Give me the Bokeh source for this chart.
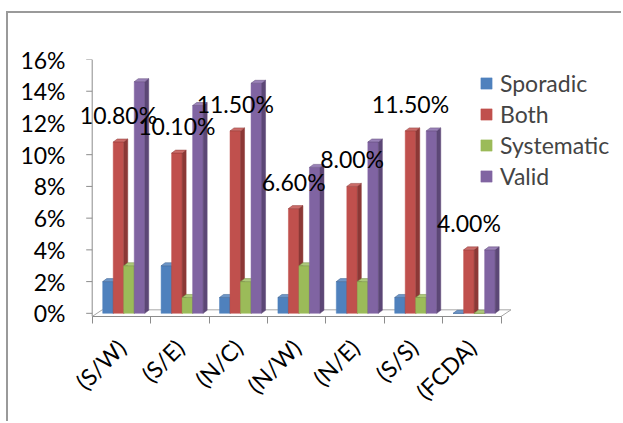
import math
from bokeh.plotting import figure
from bokeh.models import (Range1d, FixedTicker, PrintfTickFormatter, Legend, LegendItem,
                          ColumnDataSource, LabelSet)
from bokeh.core.properties import value
from bokeh.embed import file_html
from bokeh.resources import INLINE

# ---- data ----
categories = ["(S/W)", "(S/E)", "(N/C)", "(N/W)", "(N/E)", "(S/S)", "(FCDA)"]
sporadic = [2, 3, 1, 1, 2, 1, 0]
both = [10.8, 10.1, 11.5, 6.6, 8.0, 11.5, 4.0]
systematic = [3, 1, 2, 3, 2, 1, 0]
valid = [14.6, 13.1, 14.5, 9.2, 10.8, 11.5, 4.0]
series_names = ["Sporadic", "Both", "Systematic", "Valid"]
y_ticks = [0, 2, 4, 6, 8, 10, 12, 14, 16]

FONT = "Lato"
FS = "23px"
AXIS_GRAY = "#8c8c8c"
front_colors = ["#4F81BD", "#C0504D", "#9BBB59", "#8064A2"]
side_colors = ["#385D8A", "#8C3836", "#71893F", "#5C4776"]
top_colors = ["#6D96C8", "#CB6C69", "#AEC97B", "#9A82B8"]

xs_pos = list(range(len(categories)))
CAT_PX = 58.4     # pixels per category
W = 0.18          # bar width (category units)
START = -0.32     # first bar offset from category centre
DX = 4 / CAT_PX   # 3D depth (x)
DY = 3 / 15.86    # 3D depth (y)
WALL = -0.5       # position of the value-axis wall

p = figure(width=615, height=410,
           x_range=Range1d(WALL - 12.7 / CAT_PX, WALL + 518.3 / CAT_PX),
           y_range=Range1d(-0.2, 16),
           output_backend="svg", toolbar_location=None,
           min_border_left=71, min_border_right=13, min_border_top=46, min_border_bottom=107,
           margin=(11, 0, 0, 6))
p.styles = {"border-top": "2px solid #9a9a9a", "border-left": "2px solid #9a9a9a"}
p.outline_line_color = None
p.xgrid.visible = False
p.ygrid.visible = False

# floor
FX = 10 / CAT_PX
FY = 0.42
p.patch([WALL, 6.5, 6.5 + FX, WALL + FX], [-0.2, -0.2, -0.2 + FY, -0.2 + FY],
        fill_color="white", line_color="#a6a6a6", line_width=1)

# value-axis wall line and its tick marks (at the y tick values)
p.segment(x0=[WALL], y0=[-0.2], x1=[WALL], y1=[16], line_color=AXIS_GRAY, line_width=1)
p.segment(x0=[WALL - 6 / CAT_PX] * len(y_ticks), y0=y_ticks,
          x1=[WALL] * len(y_ticks), y1=y_ticks, line_color=AXIS_GRAY, line_width=1)

series_vals = [sporadic, both, systematic, valid]
items = []
for k, (name, vals) in enumerate(zip(series_names, series_vals)):
    left = [x + START + k * W for x in xs_pos]
    right = [l + W for l in left]
    fr = p.quad(left=left, right=right, bottom=0, top=vals,
                fill_color=front_colors[k], line_color=front_colors[k], line_width=0.5)
    side_xs = [[r, r + DX, r + DX, r] for r in right]
    side_ys = [[0, DY, v + DY, v] for v in vals]
    p.patches(side_xs, side_ys, fill_color=side_colors[k], line_color=side_colors[k], line_width=0.5)
    top_xs = [[l, r, r + DX, l + DX] for l, r in zip(left, right)]
    top_ys = [[v, v, v + DY, v + DY] for v in vals]
    p.patches(top_xs, top_ys, fill_color=top_colors[k], line_color=side_colors[k], line_width=0.5)
    items.append(LegendItem(label=name, renderers=[fr]))

# data labels for "Both"
lbl_src = ColumnDataSource(dict(
    x=[x + START + W * 1 + W / 2 for x in xs_pos],
    y=both,
    text=[f"{v:.2f}%" for v in both],
))
labels = LabelSet(x="x", y="y", text="text", source=lbl_src, text_font=value(FONT),
                  text_font_size=value(FS), text_align="center", text_baseline="middle",
                  y_offset=27, text_color="black")
p.add_layout(labels)

# axes
yax = p.yaxis[0]
yax.ticker = FixedTicker(ticks=y_ticks)
yax.formatter = PrintfTickFormatter(format="%d%%")
yax.major_label_text_font = FONT
yax.major_label_text_font_size = FS
yax.major_label_text_color = "black"
yax.major_label_standoff = 14
yax.major_tick_out = 0
yax.major_tick_in = 0
yax.major_tick_line_color = None
yax.minor_tick_line_color = None
yax.axis_line_color = None

xax = p.xaxis[0]
xax.ticker = FixedTicker(ticks=xs_pos, minor_ticks=[i - 0.5 for i in range(len(categories) + 1)])
xax.major_label_overrides = {i: c for i, c in enumerate(categories)}
xax.major_label_orientation = math.pi / 4
xax.major_label_text_font = FONT
xax.major_label_text_font_size = FS
xax.major_label_text_color = "black"
xax.major_label_standoff = 20
xax.major_tick_out = 0
xax.major_tick_in = 0
xax.minor_tick_out = 7
xax.minor_tick_in = 0
xax.minor_tick_line_color = AXIS_GRAY
xax.axis_line_color = AXIS_GRAY
xax.bounds = (WALL, 6.5)

legend = Legend(items=items, location=(400, 126), label_text_font=FONT,
                label_text_font_size=FS, glyph_width=14, glyph_height=14,
                label_height=24, spacing=3, padding=0, margin=0, label_standoff=7,
                border_line_color=None, background_fill_alpha=0)
p.add_layout(legend)

open("out.html", "w").write(file_html(p, INLINE))
